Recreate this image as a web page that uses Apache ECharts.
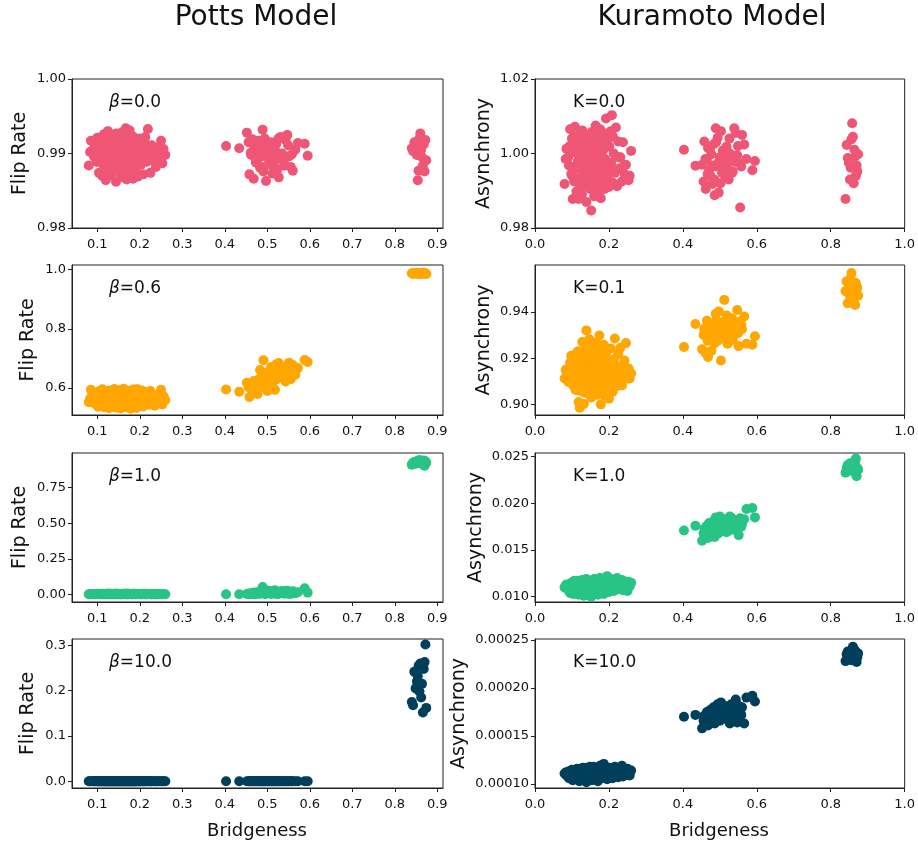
<!DOCTYPE html>
<html>
<head>
<meta charset="utf-8">
<script src="https://cdn.jsdelivr.net/npm/echarts@6/dist/echarts.min.js"></script>
<style>
html,body{margin:0;padding:0;background:#fff;}
#chart{width:918px;height:846px;}
</style>
</head>
<body>
<div id="chart"></div>
<script>
// ---- shared x values (bridgeness of each network) ----
const bridgeness = [
0.080,0.085,0.090,0.092,0.095,0.098,0.100,0.102,0.104,0.106,
0.108,0.110,0.112,0.114,0.116,0.118,0.120,0.121,0.123,0.125,
0.127,0.128,0.130,0.132,0.134,0.135,0.137,0.139,0.140,0.142,
0.144,0.145,0.147,0.149,0.150,0.152,0.154,0.155,0.157,0.159,
0.160,0.162,0.164,0.165,0.167,0.169,0.170,0.172,0.174,0.176,
0.178,0.180,0.182,0.184,0.186,0.188,0.190,0.192,0.195,0.197,
0.200,0.203,0.205,0.208,0.210,0.213,0.216,0.219,0.222,0.225,
0.228,0.231,0.235,0.238,0.242,0.246,0.250,0.253,0.256,0.260,
0.403,0.434,0.452,0.456,0.458,0.462,0.465,0.468,0.471,0.474,
0.477,0.480,0.483,0.486,0.489,0.491,0.494,0.497,0.500,0.503,
0.506,0.509,0.512,0.515,0.518,0.521,0.524,0.527,0.531,0.535,
0.539,0.543,0.547,0.551,0.555,0.560,0.566,0.572,0.588,0.595,
0.840,0.843,0.846,0.849,0.852,0.854,0.856,0.858,0.860,0.862,
0.864,0.866,0.868,0.870,0.872,0.874,
0.083,0.094,0.101,0.105,0.109,0.111,0.115,0.117,0.119,0.122,
0.124,0.126,0.129,0.131,0.133,0.136,0.138,0.141,0.143,0.146,
0.148,0.151,0.153,0.156,0.158,0.161,0.163,0.166,0.168,0.171,
0.173,0.175,0.177,0.179,0.181,0.183,0.185,0.187,0.189,0.191,
0.194,0.198,0.201,0.206,0.211,0.217,0.226,0.240,
0.461,0.467,0.473,0.479,0.485,0.490,0.496,0.502,0.508,0.514,
0.520,0.526,0.533,0.541,0.549,0.558];

// ---- Potts model: flip rate ----
const pottsBeta00 = [
0.9884,0.9917,0.9905,0.9896,0.9912,0.9889,0.9921,0.9900,0.9874,0.9908,
0.9893,0.9915,0.9870,0.9902,0.9926,0.9886,0.9864,0.9910,0.9897,0.9930,
0.9880,0.9905,0.9918,0.9891,0.9871,0.9924,0.9899,0.9884,0.9912,0.9903,
0.9862,0.9927,0.9894,0.9877,0.9909,0.9919,0.9887,0.9900,0.9868,0.9914,
0.9929,0.9892,0.9881,0.9906,0.9934,0.9865,0.9898,0.9916,0.9875,0.9931,
0.9903,0.9888,0.9911,0.9866,0.9895,0.9920,0.9879,0.9908,0.9869,0.9917,
0.9893,0.9885,0.9913,0.9872,0.9902,0.9922,0.9889,0.9933,0.9897,0.9874,
0.9911,0.9890,0.9904,0.9882,0.9899,0.9909,0.9917,0.9887,0.9906,0.9898,
0.9910,0.9907,0.9928,0.9915,0.9872,0.9898,0.9919,0.9866,0.9905,0.9889,
0.9912,0.9894,0.9881,0.9903,0.9932,0.9876,0.9920,0.9863,0.9899,0.9909,
0.9885,0.9895,0.9873,0.9906,0.9891,0.9913,0.9879,0.9868,0.9922,0.9900,
0.9887,0.9918,0.9925,0.9896,0.9882,0.9877,0.9905,0.9914,0.9913,0.9897,
0.9907,0.9903,0.9915,0.9911,0.9898,0.9864,0.9877,0.9920,0.9927,0.9905,
0.9895,0.9884,0.9912,0.9876,0.9918,0.9891,
0.9902,0.9913,0.9889,0.9921,0.9896,0.9908,0.9884,0.9917,0.9899,0.9890,
0.9911,0.9878,0.9923,0.9904,0.9893,0.9915,0.9882,0.9907,0.9897,0.9920,
0.9886,0.9910,0.9901,0.9925,0.9891,0.9879,0.9914,0.9903,0.9921,0.9888,
0.9898,0.9918,0.9883,0.9906,0.9895,0.9923,0.9900,0.9881,0.9912,0.9894,
0.9905,0.9920,0.9887,0.9900,0.9915,0.9892,0.9908,0.9896,
0.9901,0.9912,0.9888,0.9917,0.9896,0.9882,0.9909,0.9893,0.9915,0.9886,
0.9903,0.9920,0.9897,0.9884,0.9911,0.9899];

const pottsBeta06 = [
0.552,0.594,0.571,0.558,0.583,0.545,0.566,0.537,0.589,0.560,
0.574,0.548,0.596,0.563,0.535,0.580,0.556,0.570,0.542,0.591,
0.561,0.532,0.577,0.550,0.586,0.565,0.539,0.573,0.597,0.554,
0.568,0.534,0.582,0.547,0.593,0.559,0.575,0.531,0.566,0.588,
0.543,0.598,0.557,0.572,0.536,0.584,0.562,0.549,0.591,0.569,
0.530,0.578,0.555,0.595,0.541,0.567,0.583,0.533,0.596,0.560,
0.546,0.579,0.592,0.538,0.571,0.553,0.587,0.564,0.544,0.590,
0.558,0.575,0.540,0.566,0.551,0.581,0.594,0.545,0.572,0.560,
0.595,0.588,0.618,0.603,0.570,0.598,0.612,0.624,0.585,0.606,
0.580,0.630,0.661,0.612,0.645,0.694,0.628,0.603,0.590,0.655,
0.638,0.671,0.620,0.648,0.594,0.680,0.633,0.685,0.657,0.640,
0.665,0.622,0.650,0.686,0.630,0.678,0.645,0.668,0.695,0.688,
0.988,0.986,0.989,0.987,0.988,0.990,0.986,0.988,0.987,0.989,
0.986,0.988,0.990,0.987,0.988,0.986,
0.565,0.548,0.580,0.556,0.590,0.542,0.571,0.560,0.585,0.537,
0.568,0.552,0.577,0.545,0.593,0.563,0.539,0.574,0.558,0.587,
0.547,0.569,0.534,0.581,0.555,0.592,0.543,0.566,0.578,0.550,
0.589,0.561,0.536,0.573,0.557,0.584,0.544,0.570,0.553,0.595,
0.541,0.576,0.562,0.549,0.586,0.558,0.571,0.552,
0.600,0.585,0.615,0.598,0.632,0.610,0.650,0.625,0.640,0.662,
0.628,0.655,0.672,0.645,0.668,0.650];

const pottsBeta10 = [
0.000,0.002,0.001,0.003,0.000,0.001,0.004,0.002,0.000,0.003,
0.001,0.002,0.000,0.004,0.001,0.003,0.002,0.000,0.001,0.005,
0.002,0.000,0.003,0.001,0.004,0.002,0.000,0.003,0.001,0.002,
0.005,0.001,0.000,0.003,0.002,0.004,0.001,0.000,0.002,0.003,
0.001,0.004,0.002,0.000,0.003,0.005,0.001,0.002,0.000,0.004,
0.002,0.003,0.001,0.000,0.002,0.004,0.001,0.003,0.000,0.002,
0.001,0.003,0.000,0.002,0.004,0.001,0.000,0.003,0.002,0.001,
0.000,0.002,0.001,0.003,0.000,0.002,0.001,0.000,0.002,0.000,
0.000,0.000,0.002,0.005,0.000,0.008,0.003,0.012,0.001,0.006,
0.015,0.004,0.020,0.009,0.052,0.030,0.002,0.018,0.007,0.025,
0.011,0.003,0.022,0.006,0.028,0.014,0.001,0.019,0.008,0.024,
0.004,0.016,0.026,0.010,0.002,0.021,0.007,0.015,0.042,0.012,
0.912,0.925,0.930,0.918,0.935,0.940,0.922,0.945,0.928,0.938,
0.932,0.915,0.942,0.905,0.936,0.926,
0.001,0.002,0.000,0.003,0.001,0.002,0.000,0.001,0.003,0.002,
0.000,0.001,0.002,0.004,0.001,0.000,0.002,0.003,0.001,0.002,
0.000,0.003,0.001,0.002,0.000,0.004,0.002,0.001,0.003,0.000,
0.002,0.001,0.003,0.000,0.002,0.001,0.004,0.002,0.000,0.001,
0.003,0.002,0.001,0.000,0.002,0.001,0.000,0.001,
0.004,0.010,0.002,0.015,0.006,0.020,0.003,0.012,0.008,0.018,
0.005,0.014,0.009,0.022,0.004,0.011];

const pottsBeta100 = [
0,0,0,0,0,0,0,0,0,0,
0,0,0,0,0,0,0,0,0,0,
0,0,0,0,0,0,0,0,0,0,
0,0,0,0,0,0,0,0,0,0,
0,0,0,0,0,0,0,0,0,0,
0,0,0,0,0,0,0,0,0,0,
0,0,0,0,0,0,0,0,0,0,
0,0,0,0,0,0,0,0,0,0,
0,0,0,0,0,0,0,0,0,0,
0,0,0,0,0,0,0,0,0,0,
0,0,0,0,0,0,0,0,0,0,
0,0,0,0,0,0,0,0,0,0,
0.175,0.168,0.242,0.205,0.220,0.232,0.255,0.198,0.260,0.185,
0.215,0.152,0.248,0.263,0.302,0.162,
0,0,0,0,0,0,0,0,0,0,
0,0,0,0,0,0,0,0,0,0,
0,0,0,0,0,0,0,0,0,0,
0,0,0,0,0,0,0,0,0,0,
0,0,0,0,0,0,0,0,
0,0,0,0,0,0,0,0,0,0,
0,0,0,0,0,0];

// ---- Kuramoto model: asynchrony ----
const kuraK00 = [
0.9918,1.0013,0.9990,0.9968,1.0065,0.9945,1.0040,0.9878,1.0005,0.9925,
1.0072,0.9960,0.9898,1.0028,0.9980,0.9878,1.0050,0.9935,1.0010,0.9955,
0.9890,1.0062,0.9975,0.9912,1.0035,0.9942,1.0002,0.9870,0.9965,1.0048,
0.9920,0.9988,1.0020,0.9905,0.9952,0.9847,1.0058,0.9930,0.9995,1.0030,
0.9885,0.9970,1.0075,0.9915,1.0008,0.9948,1.0042,0.9895,0.9978,1.0065,
0.9880,0.9958,1.0018,0.9928,1.0052,0.9905,0.9985,1.0094,0.9940,1.0025,
0.9910,0.9968,1.0060,1.0103,0.9922,1.0000,0.9948,1.0070,0.9912,1.0032,
0.9960,0.9990,0.9925,1.0030,0.9945,0.9970,0.9936,0.9928,0.9940,1.0007,
1.0010,0.9967,0.9970,0.9925,1.0032,0.9905,0.9985,1.0015,0.9955,0.9940,
0.9998,0.9918,1.0025,0.9888,1.0068,0.9965,1.0042,0.9895,0.9990,1.0060,
0.9948,1.0005,0.9975,0.9935,1.0018,0.9960,0.9930,1.0000,0.9982,0.9952,
1.0068,1.0055,0.9995,0.9975,0.9855,1.0050,1.0024,0.9985,0.9955,0.9980,
0.9878,1.0023,0.9988,0.9975,0.9930,0.9962,1.0038,1.0081,1.0045,0.9920,
1.0010,0.9992,0.9940,0.9968,0.9952,0.9998,
0.9985,1.0020,0.9940,1.0045,0.9965,1.0002,0.9930,1.0035,0.9975,0.9915,
1.0055,0.9990,0.9950,1.0012,0.9925,1.0040,0.9968,0.9998,0.9935,1.0028,
0.9958,1.0050,0.9908,0.9982,1.0015,0.9945,1.0038,0.9972,0.9920,1.0005,
0.9962,1.0025,0.9938,0.9992,1.0058,0.9952,1.0010,0.9918,0.9980,1.0034,
0.9960,0.9928,1.0018,0.9975,1.0045,0.9955,0.9990,0.9968,
0.9985,0.9945,1.0012,0.9968,0.9930,1.0030,0.9975,0.9920,1.0008,0.9958,
0.9990,1.0040,0.9948,0.9978,1.0020,0.9965];

const kuraK01 = [
0.9112,0.9140,0.9098,0.9125,0.9180,0.9210,0.9155,0.9085,0.9135,0.9198,
0.9118,0.9062,0.9172,0.9225,0.9105,0.9010,0.9148,0.8985,0.9192,0.9128,
0.9068,0.9270,0.9160,0.9002,0.9110,0.9235,0.9078,0.9320,0.9142,0.9048,
0.9205,0.9120,0.9282,0.9092,0.9168,0.9030,0.9250,0.9138,0.9075,0.9215,
0.9158,0.9045,0.9265,0.9122,0.9188,0.9060,0.9240,0.9108,0.9298,0.9150,
0.9000,0.9202,0.9088,0.9175,0.9258,0.9038,0.9132,0.9220,0.9065,0.9185,
0.9025,0.9145,0.9242,0.9100,0.9055,0.9195,0.9285,0.9130,0.9080,0.9218,
0.9162,0.9245,0.9082,0.9140,0.9190,0.9265,0.9112,0.9155,0.9112,0.9135,
0.9248,0.9348,0.9238,0.9300,0.9328,0.9222,0.9362,0.9205,0.9315,0.9280,
0.9232,0.9340,0.9298,0.9265,0.9392,0.9310,0.9275,0.9402,0.9330,0.9190,
0.9355,0.9290,0.9452,0.9320,0.9385,0.9262,0.9342,0.9305,0.9370,0.9280,
0.9338,0.9312,0.9408,0.9252,0.9358,0.9325,0.9380,0.9262,0.9258,0.9295,
0.9490,0.9532,0.9438,0.9505,0.9470,0.9545,0.9568,0.9482,0.9515,0.9455,
0.9498,0.9430,0.9525,0.9478,0.9505,0.9470,
0.9150,0.9095,0.9205,0.9130,0.9070,0.9180,0.9115,0.9230,0.9060,0.9165,
0.9140,0.9085,0.9210,0.9125,0.9050,0.9190,0.9105,0.9245,0.9155,0.9078,
0.9200,0.9135,0.9062,0.9172,0.9118,0.9225,0.9090,0.9160,0.9042,0.9195,
0.9128,0.9255,0.9102,0.9178,0.9068,0.9148,0.9212,0.9088,0.9165,0.9120,
0.9232,0.9075,0.9185,0.9142,0.9100,0.9170,0.9115,0.9150,
0.9310,0.9275,0.9345,0.9290,0.9322,0.9365,0.9300,0.9335,0.9285,0.9350,
0.9318,0.9295,0.9372,0.9330,0.9308,0.9345];

const kuraK10 = [
0.0110,0.0113,0.0107,0.0111,0.0104,0.0115,0.0109,0.0112,0.0103,0.0117,
0.0108,0.0113,0.0105,0.0110,0.0116,0.0102,0.0111,0.0107,0.0114,0.0109,
0.0104,0.0118,0.0112,0.0101,0.0109,0.0115,0.0106,0.0119,0.0111,0.0103,
0.0113,0.0108,0.0117,0.0105,0.0112,0.0100,0.0116,0.0109,0.0114,0.0107,
0.0119,0.0104,0.0112,0.0117,0.0108,0.0113,0.0102,0.0115,0.0110,0.0120,
0.0106,0.0114,0.0109,0.0118,0.0103,0.0112,0.0116,0.0107,0.0122,0.0111,
0.0105,0.0115,0.0119,0.0109,0.0113,0.0106,0.0117,0.0111,0.0120,0.0108,
0.0114,0.0110,0.0118,0.0107,0.0115,0.0112,0.0106,0.0116,0.0111,0.0115,
0.0171,0.0176,0.0160,0.0168,0.0173,0.0165,0.0176,0.0163,0.0179,0.0170,
0.0166,0.0175,0.0181,0.0164,0.0185,0.0172,0.0178,0.0168,0.0186,0.0175,
0.0181,0.0171,0.0177,0.0183,0.0169,0.0179,0.0174,0.0186,0.0176,0.0182,
0.0172,0.0180,0.0175,0.0166,0.0184,0.0178,0.0183,0.0194,0.0195,0.0185,
0.0233,0.0238,0.0241,0.0236,0.0243,0.0239,0.0235,0.0242,0.0237,0.0240,
0.0234,0.0245,0.0248,0.0229,0.0238,0.0236,
0.0112,0.0108,0.0115,0.0106,0.0113,0.0109,0.0117,0.0105,0.0111,0.0114,
0.0107,0.0116,0.0110,0.0104,0.0113,0.0118,0.0108,0.0112,0.0106,0.0115,
0.0110,0.0117,0.0105,0.0113,0.0109,0.0116,0.0111,0.0107,0.0114,0.0119,
0.0108,0.0112,0.0106,0.0115,0.0110,0.0117,0.0113,0.0109,0.0116,0.0111,
0.0114,0.0108,0.0118,0.0112,0.0115,0.0110,0.0113,0.0116,
0.0170,0.0174,0.0167,0.0178,0.0172,0.0180,0.0169,0.0176,0.0182,0.0173,
0.0179,0.0171,0.0184,0.0177,0.0181,0.0175];

const kuraK100 = [
1.11e-4,1.09e-4,1.13e-4,1.06e-4,1.12e-4,1.08e-4,1.15e-4,1.04e-4,1.10e-4,1.14e-4,
1.07e-4,1.12e-4,1.05e-4,1.16e-4,1.09e-4,1.11e-4,1.03e-4,1.13e-4,1.08e-4,1.15e-4,
1.06e-4,1.12e-4,1.17e-4,1.04e-4,1.10e-4,1.14e-4,1.07e-4,1.02e-4,1.13e-4,1.09e-4,
1.16e-4,1.05e-4,1.11e-4,1.18e-4,1.08e-4,1.12e-4,1.04e-4,1.15e-4,1.10e-4,1.07e-4,
1.13e-4,1.17e-4,1.05e-4,1.11e-4,1.09e-4,1.16e-4,1.03e-4,1.14e-4,1.08e-4,1.19e-4,
1.12e-4,1.06e-4,1.15e-4,1.10e-4,1.21e-4,1.07e-4,1.13e-4,1.17e-4,1.05e-4,1.11e-4,
1.14e-4,1.08e-4,1.16e-4,1.10e-4,1.06e-4,1.13e-4,1.18e-4,1.09e-4,1.12e-4,1.07e-4,
1.15e-4,1.11e-4,1.19e-4,1.08e-4,1.13e-4,1.10e-4,1.16e-4,1.12e-4,1.09e-4,1.14e-4,
1.70e-4,1.72e-4,1.58e-4,1.66e-4,1.71e-4,1.63e-4,1.75e-4,1.61e-4,1.69e-4,1.77e-4,
1.65e-4,1.73e-4,1.80e-4,1.63e-4,1.76e-4,1.68e-4,1.83e-4,1.71e-4,1.66e-4,1.85e-4,
1.74e-4,1.69e-4,1.79e-4,1.72e-4,1.81e-4,1.67e-4,1.76e-4,1.63e-4,1.83e-4,1.74e-4,
1.70e-4,1.88e-4,1.64e-4,1.78e-4,1.73e-4,1.80e-4,1.63e-4,1.90e-4,1.92e-4,1.86e-4,
2.28e-4,2.35e-4,2.38e-4,2.31e-4,2.36e-4,2.33e-4,2.29e-4,2.37e-4,2.43e-4,2.34e-4,
2.30e-4,2.39e-4,2.35e-4,2.27e-4,2.32e-4,2.36e-4,
1.12e-4,1.08e-4,1.14e-4,1.06e-4,1.11e-4,1.15e-4,1.09e-4,1.13e-4,1.05e-4,1.10e-4,
1.16e-4,1.07e-4,1.12e-4,1.09e-4,1.14e-4,1.04e-4,1.11e-4,1.17e-4,1.08e-4,1.13e-4,
1.10e-4,1.15e-4,1.06e-4,1.12e-4,1.18e-4,1.09e-4,1.14e-4,1.07e-4,1.11e-4,1.16e-4,
1.10e-4,1.13e-4,1.08e-4,1.15e-4,1.12e-4,1.19e-4,1.09e-4,1.14e-4,1.11e-4,1.16e-4,
1.10e-4,1.13e-4,1.17e-4,1.12e-4,1.14e-4,1.10e-4,1.13e-4,1.15e-4,
1.68e-4,1.72e-4,1.66e-4,1.75e-4,1.70e-4,1.78e-4,1.73e-4,1.69e-4,1.81e-4,1.74e-4,
1.77e-4,1.71e-4,1.79e-4,1.75e-4,1.82e-4,1.72e-4];

// ---- tick labels ----
const pottsXTicks = [0.1,0.2,0.3,0.4,0.5,0.6,0.7,0.8,0.9];
const kuraXTicks = [0.0,0.2,0.4,0.6,0.8,1.0];
const yTicks = {
  p0: [0.98,0.99,1.00], p1: [0.6,0.8,1.0], p2: [0.00,0.25,0.50,0.75], p3: [0.0,0.1,0.2,0.3],
  k0: [0.98,1.00,1.02], k1: [0.90,0.92,0.94], k2: [0.010,0.015,0.020,0.025], k3: [0.00010,0.00015,0.00020,0.00025]
};
const pottsLabels = ['0.0','0.6','1.0','10.0'];
const kuraLabels = ['K=0.0','K=0.1','K=1.0','K=10.0'];
const colors = ['#ef5675','#ffa600','#27c485','#003f5c'];

const FONT = 'DejaVu Sans';
const tops = [79, 265, 453, 639];
const heights = [149, 150, 149, 149];

const panels = [
  {col:0,row:0,y:pottsBeta00, ymin:0.98, ymax:1.00, ticks:yTicks.p0, dec:2, nameX:20},
  {col:0,row:1,y:pottsBeta06, ymin:0.509, ymax:1.016, ticks:yTicks.p1, dec:1, nameX:28},
  {col:0,row:2,y:pottsBeta10, ymin:-0.054, ymax:0.994, ticks:yTicks.p2, dec:2, nameX:20},
  {col:0,row:3,y:pottsBeta100, ymin:-0.0148, ymax:0.314, ticks:yTicks.p3, dec:1, nameX:28},
  {col:1,row:0,y:kuraK00, ymin:0.98, ymax:1.02, ticks:yTicks.k0, dec:2, nameX:484},
  {col:1,row:1,y:kuraK01, ymin:0.8954, ymax:0.9603, ticks:yTicks.k1, dec:2, nameX:484},
  {col:1,row:2,y:kuraK10, ymin:0.00943, ymax:0.0254, ticks:yTicks.k2, dec:3, nameX:476},
  {col:1,row:3,y:kuraK100, ymin:0.0000959, ymax:0.000251, ticks:yTicks.k3, dec:5, nameX:459}
];

const grid = [], xAxis = [], yAxis = [], series = [], graphic = [];
panels.forEach((p, i) => {
  const left = p.col === 0 ? 72 : 535;
  const width = p.col === 0 ? 371 : 370;
  grid.push({left, top: tops[p.row], width, height: heights[p.row], show:true,
    borderColor:'#222', borderWidth:1, backgroundColor:'transparent', containLabel:false});
  const xt = p.col === 0 ? pottsXTicks : kuraXTicks;
  xAxis.push({
    type:'value', gridIndex:i,
    min: p.col === 0 ? 0.0405 : 0, max: p.col === 0 ? 0.9134 : 1.0,
    splitLine:{show:false},
    axisLine:{show:true, onZero:false, lineStyle:{color:'#222', width:1}},
    axisTick:{show:true, length:4, lineStyle:{color:'#222'}, customValues: xt},
    axisLabel:{fontFamily:FONT, fontSize:13, color:'#111', margin:10, customValues: xt,
      formatter: v => v.toFixed(1)}
  });
  yAxis.push({
    type:'value', gridIndex:i, min:p.ymin, max:p.ymax, scale:true,
    splitLine:{show:false},
    axisLine:{show:true, onZero:false, lineStyle:{color:'#222', width:1}},
    axisTick:{show:true, length:4, lineStyle:{color:'#222'}, customValues: p.ticks},
    axisLabel:{fontFamily:FONT, fontSize:13, color:'#111', margin:6, customValues: p.ticks,
      formatter: v => v.toFixed(p.dec)}
  });
  series.push({
    type:'scatter', xAxisIndex:i, yAxisIndex:i, symbol:'circle', symbolSize:10,
    itemStyle:{color: colors[p.row], opacity:1},
    data: bridgeness.map((x, k) => [x, p.y[k]]),
    silent:true, animation:false
  });
  // y axis name
  graphic.push({type:'text', x:p.nameX, y:tops[p.row] + heights[p.row]/2, rotation:Math.PI/2,
    style:{text: p.col === 0 ? 'Flip Rate' : 'Asynchrony', font:'19px "DejaVu Sans"', fill:'#111',
      align:'center', verticalAlign:'middle'}});
  // annotation
  if (p.col === 0) {
    graphic.push({type:'text', x:left + 37, y:tops[p.row] + 24,
      style:{text:'{i|β}=' + pottsLabels[p.row], font:'17px "DejaVu Sans"', fill:'#111',
        verticalAlign:'middle', align:'left',
        rich:{i:{fontStyle:'italic', fontFamily:FONT, fontSize:17, fill:'#111'}}}});
  } else {
    graphic.push({type:'text', x:left + 38, y:tops[p.row] + 24,
      style:{text: kuraLabels[p.row], font:'17px "DejaVu Sans"', fill:'#111',
        verticalAlign:'middle', align:'left'}});
  }
});

graphic.push({type:'text', x:256, y:18, style:{text:'Potts Model', font:'28px "DejaVu Sans"', fill:'#111', align:'center', verticalAlign:'middle'}});
graphic.push({type:'text', x:712, y:18, style:{text:'Kuramoto Model', font:'28px "DejaVu Sans"', fill:'#111', align:'center', verticalAlign:'middle'}});
graphic.push({type:'text', x:257, y:831, style:{text:'Bridgeness', font:'18px "DejaVu Sans"', fill:'#111', align:'center', verticalAlign:'middle'}});
graphic.push({type:'text', x:719, y:831, style:{text:'Bridgeness', font:'18px "DejaVu Sans"', fill:'#111', align:'center', verticalAlign:'middle'}});

const chart = echarts.init(document.getElementById('chart'), null, {renderer:'canvas'});
chart.setOption({animation:false, backgroundColor:'#fff', grid, xAxis, yAxis, series, graphic});
</script>
</body>
</html>
